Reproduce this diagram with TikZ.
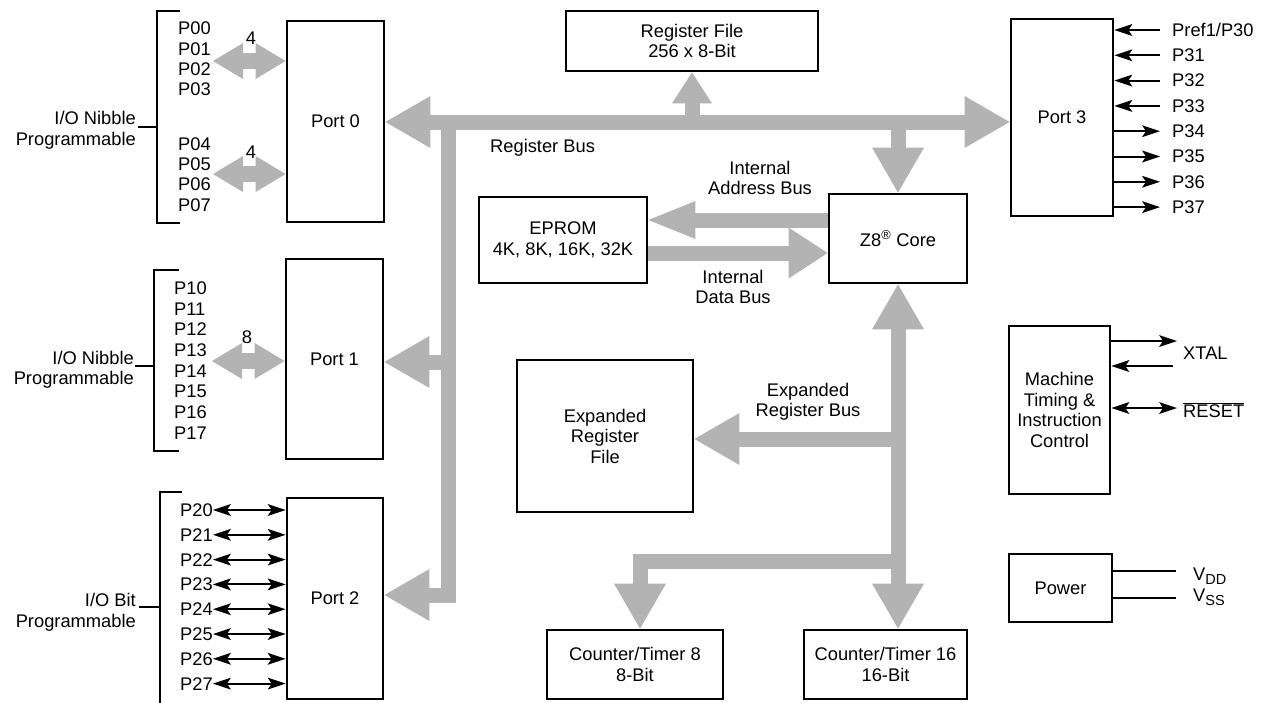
\documentclass[tikz,border=0pt]{standalone}
\usepackage{fontspec}
\setmainfont{Liberation Sans}
\usetikzlibrary{arrows.meta}
\definecolor{busgray}{RGB}{179,179,179}
\tikzset{
  BH/.tip={Triangle[length=45pt,width=52pt,line width=0pt]},
  RH/.tip={Triangle[length=31pt,width=40pt,line width=0pt]},
  AH/.tip={Triangle[length=47pt,width=38pt,line width=0pt]},
  DH/.tip={Triangle[length=39pt,width=51pt,line width=0pt]},
  SH/.tip={Triangle[length=30pt,width=36pt,line width=0pt]},
  ST/.tip={Stealth[length=18pt,width=12pt,inset=4pt,line width=0pt]},
}
\begin{document}
\begin{tikzpicture}[x=1pt,y=-1pt,
  every node/.style={font=\fontsize{18.3}{20.5}\selectfont, inner sep=0pt},
  blk/.style={draw, line width=2.8pt, align=center},
  bus/.style={draw=busgray, line width=15pt, line join=miter},
  pinbus/.style={draw=busgray, line width=16.5pt},
  wire/.style={draw, line width=2pt},
  brk/.style={draw, line width=2pt}]
\useasboundingbox (0,0) rectangle (1265,702);

% blocks
\node[blk, minimum width=97pt, minimum height=201pt] (port0) at (335.5,121.5) {Port 0};
\node[blk, minimum width=97pt, minimum height=200pt] (port1) at (334.5,359) {Port 1};
\node[blk, minimum width=96pt, minimum height=201pt] (port2) at (335,598.5) {Port 2};
\node[blk, minimum width=252pt, minimum height=60pt] (regfile) at (692,41) {Register File\\256 x 8-Bit};
\node[blk, minimum width=102pt, minimum height=197pt] (port3) at (1062,117.5) {Port 3};
\node[blk, minimum width=168pt, minimum height=86pt] (eprom) at (563,240) {EPROM\\4K, 8K, 16K, 32K};
\node[blk, minimum width=138pt, minimum height=89pt] (z8) at (898,238.5) {Z8\textsuperscript{\textregistered} Core};
\node[blk, minimum width=176pt, minimum height=152pt] (erf) at (605,436) {Expanded\\Register\\File};
\node[blk, minimum width=176pt, minimum height=69pt] (ct8) at (635,664.5) {Counter/Timer 8\\8-Bit};
\node[blk, minimum width=163pt, minimum height=69pt] (ct16) at (885.5,664.5) {Counter/Timer 16\\16-Bit};
\node[blk, minimum width=101pt, minimum height=168pt] (mtic) at (1059.5,410) {Machine\\Timing \&\\Instruction\\Control};
\node[blk, minimum width=103pt, minimum height=68pt] (power) at (1060.5,588) {Power};

% bus labels
\node[anchor=west] (lrb) at (490,148) {Register Bus};
\node[align=center] (liab) at (760,178) {Internal\\Address Bus};
\node[align=center] (lidb) at (733,287) {Internal\\Data Bus};
\node[align=center] (lerb) at (808,402) {Expanded\\Register Bus};

% junctions
\coordinate (j1) at (448,122);
\coordinate (j2) at (692,122);
\coordinate (j3) at (898,122);
\coordinate (j4) at (448,595);
\coordinate (j5) at (448,362);
\coordinate (ab) at (0,220);
\coordinate (db) at (0,253);
\coordinate (j6) at (898,439);
\coordinate (j7) at (898,561);
\coordinate (j8) at (640,561);

% gray buses
\draw[bus,{BH}-{BH}] (port0.east |- j1) -- (port3.west |- j1);
\draw[bus,-{BH}] (j1) -- (j4) -- (port2.east |- j4);
\draw[bus,-{BH}] (j5) -- (port1.east |- j5);
\draw[bus,-{RH}] (j2) -- (regfile.south);
\draw[bus,-{BH}] (j3) -- (z8.north);
\draw[bus,-{AH}] (z8.west |- ab) -- (eprom.east |- ab);
\draw[bus,-{DH}] (eprom.east |- db) -- (z8.west |- db);
\draw[bus,{BH}-{BH}] (z8.south) -- (z8.south |- ct16.north);
\draw[bus,-{BH}] (j6) -- (erf.east |- j6);
\draw[bus,-{BH}] (j7) -- (j8) -- (j8 |- ct8.north);

% port 0 pins
\foreach \i/\y in {0/28.5,1/48.8,2/69.1,3/89.4,4/144,5/164.3,6/184.6,7/204.9}
  \node[anchor=west] (p0\i) at (178,\y) {P0\i};
\coordinate (a0) at (213,61);
\coordinate (a1) at (213,174);
\draw[pinbus,{SH}-{SH}] (a0) -- (port0.west |- a0);
\draw[pinbus,{SH}-{SH}] (a1) -- (port0.west |- a1);
\node (n4a) at (251,38) {4};
\node (n4b) at (251,152) {4};
\node[align=right,anchor=east] (lb0) at (136,130.5) {I/O Nibble\\Programmable};
\draw[brk] (180,11) -- (157,11) -- (157,223) -- (180,223);
\draw[brk] (138,127) -- (157,127);

% port 1 pins
\foreach \i in {0,...,7}
  \node[anchor=west] (p1\i) at (174,{288+20.7*\i}) {P1\i};
\coordinate (a2) at (212,361);
\draw[pinbus,{SH}-{SH}] (a2) -- (port1.west |- a2);
\node (n8) at (247,337) {8};
\node[align=right,anchor=east] (lb1) at (134,370) {I/O Nibble\\Programmable};
\draw[brk] (179,270) -- (154,270) -- (154,451) -- (179,451);
\draw[brk] (135,366) -- (154,366);

% port 2 pins
\foreach \i in {0,...,7} {
  \node[anchor=west] (p2\i) at (180,{510+24.8*\i}) {P2\i};
  \draw[wire,{ST}-{ST}] (p2\i.east) -- (port2.west |- p2\i.east);
}
\node[align=right,anchor=east] (lb2) at (136,612.5) {I/O Bit\\Programmable};
\draw[brk] (182,492) -- (160,492) -- (160,706);
\draw[brk] (139,607) -- (160,607);

% port 3 pins
\node[anchor=west] (p30) at (1172,30) {Pref1/P30};
\foreach \i in {1,...,7}
  \node[anchor=west] (p3\i) at (1172,{30+25.3*\i}) {P3\i};
\foreach \i in {0,...,3}
  \draw[wire,-{ST}] ([xshift=-12pt]p3\i.west) -- (port3.east |- p3\i.west);
\foreach \i in {4,...,7}
  \draw[wire,-{ST}] (port3.east |- p3\i.west) -- ([xshift=-12pt]p3\i.west);

% machine timing
\node[anchor=base west] (xtal) at (1183,359) {XTAL};
\node[anchor=base west] (rst) at (1183,417) {$\overline{\hbox{RESET}}$};
\coordinate (x1) at (1177,341);
\coordinate (x2) at (1173,366);
\coordinate (r1) at (1177,408);
\draw[wire,-{ST}] (mtic.east |- x1) -- (x1);
\draw[wire,-{ST}] (x2) -- (mtic.east |- x2);
\draw[wire,{ST}-{ST}] (mtic.east |- r1) -- (r1);

% power
\coordinate (v1) at (1176,571);
\coordinate (v2) at (1176,598);
\draw[wire] (power.east |- v1) -- (v1);
\draw[wire] (power.east |- v2) -- (v2);
\node[anchor=base west] (vdd) at (1193,580) {V\raisebox{-4pt}{\fontsize{14.5}{14.5}\selectfont DD}};
\node[anchor=base west] (vss) at (1193,601) {V\raisebox{-4pt}{\fontsize{14.5}{14.5}\selectfont SS}};
\end{tikzpicture}
\end{document}
